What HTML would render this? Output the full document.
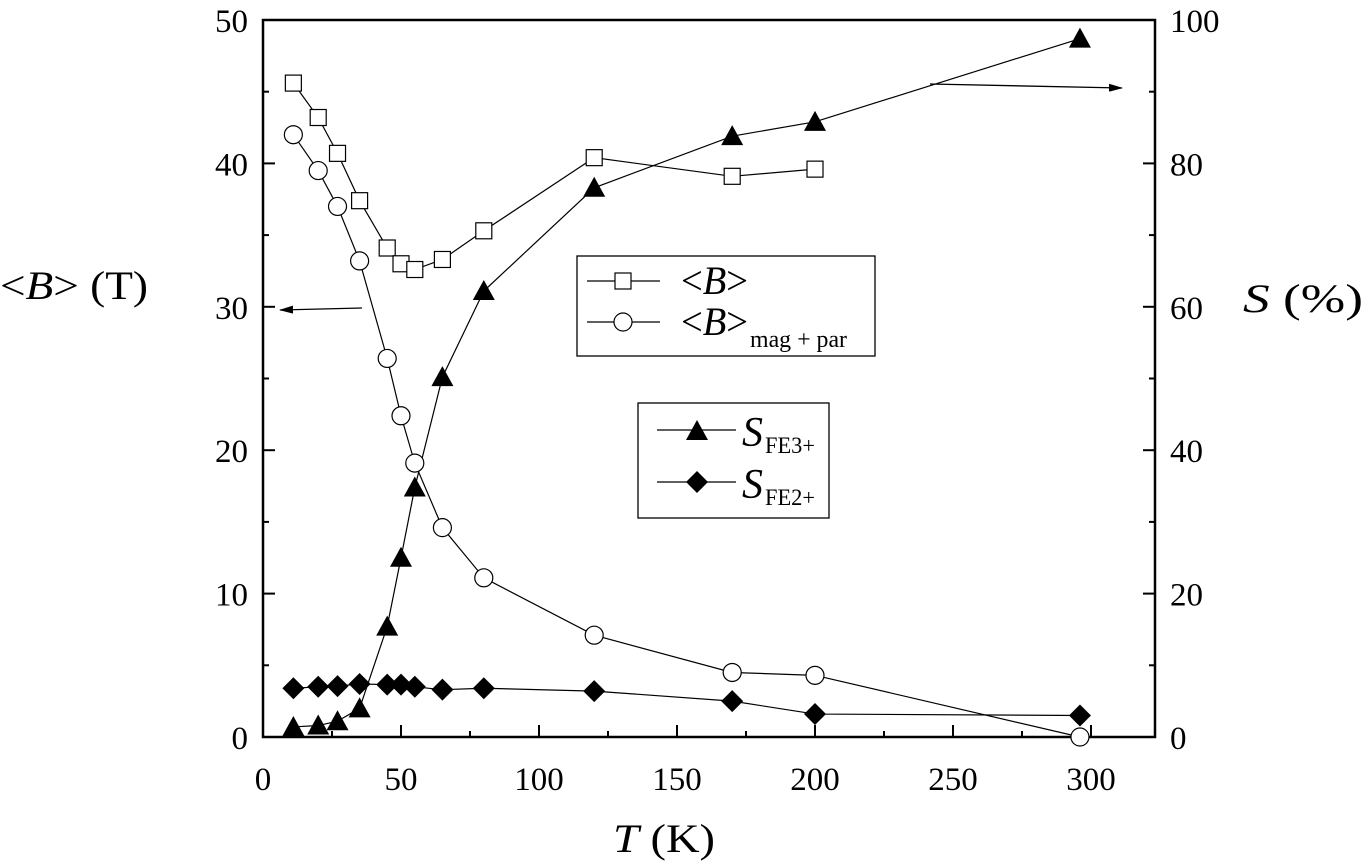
<!DOCTYPE html>
<html><head><meta charset="utf-8"><style>
html,body{margin:0;padding:0;background:#fff;width:1364px;height:867px;overflow:hidden}
svg{display:block;font-family:"Liberation Serif","DejaVu Serif",serif}
</style></head><body>
<svg id="s" width="1364" height="867" viewBox="0 0 1364 867" xmlns="http://www.w3.org/2000/svg">
<defs>
<marker id="ah" markerWidth="14" markerHeight="8" refX="13" refY="4" orient="auto" markerUnits="userSpaceOnUse"><path d="M0,0 L14,4 L0,8 z" fill="#000"/></marker>
</defs>
<rect x="263" y="20" width="892" height="717" fill="none" stroke="#000" stroke-width="2.5"/>
<g id="ticks" stroke="#000" stroke-width="2"></g>
<g id="lbl" font-size="33" fill="#000"></g>
<g id="data"></g>
<line x1="362" y1="308" x2="280" y2="310" stroke="#000" stroke-width="1.3" marker-end="url(#ah)"/>
<line x1="930" y1="84" x2="1122" y2="88" stroke="#000" stroke-width="1.3" marker-end="url(#ah)"/>
<rect x="577" y="256" width="298" height="100" fill="#fff" stroke="#000" stroke-width="1.3"/>
<line x1="587" y1="281" x2="660" y2="281" stroke="#000" stroke-width="1.2"/>
<rect x="615" y="273" width="16" height="16" fill="#fff" stroke="#000" stroke-width="1.2"/>
<text x="681" y="294" font-size="40" textLength="67" lengthAdjust="spacingAndGlyphs">&lt;<tspan font-style="italic">B</tspan>&gt;</text>
<line x1="587" y1="322" x2="660" y2="322" stroke="#000" stroke-width="1.2"/>
<circle cx="623" cy="322" r="9" fill="#fff" stroke="#000" stroke-width="1.2"/>
<text x="681" y="335" font-size="40" textLength="67" lengthAdjust="spacingAndGlyphs">&lt;<tspan font-style="italic">B</tspan>&gt;</text>
<text x="750" y="347" font-size="24" textLength="97" lengthAdjust="spacingAndGlyphs">mag + par</text>
<rect x="638" y="403" width="191" height="115" fill="#fff" stroke="#000" stroke-width="1.3"/>
<line x1="657" y1="430" x2="736" y2="430" stroke="#000" stroke-width="1.2"/>
<path d="M686,440 L697,420 L708,440 z" fill="#000"/>
<text x="742" y="446" font-size="42" font-style="italic">S</text>
<text x="765" y="453" font-size="23" textLength="50" lengthAdjust="spacingAndGlyphs">FE3+</text>
<line x1="657" y1="482" x2="736" y2="482" stroke="#000" stroke-width="1.2"/>
<path d="M697,471 L708,482 L697,493 L686,482 z" fill="#000"/>
<text x="742" y="498" font-size="42" font-style="italic">S</text>
<text x="765" y="505" font-size="23" textLength="50" lengthAdjust="spacingAndGlyphs">FE2+</text>
<text x="0" y="299" font-size="40" textLength="148" lengthAdjust="spacingAndGlyphs">&lt;<tspan font-style="italic">B</tspan>&gt; (T)</text>
<text x="1243" y="312" font-size="40" textLength="120" lengthAdjust="spacingAndGlyphs"><tspan font-style="italic">S</tspan> (%)</text>
<text x="613" y="852" font-size="40" textLength="102" lengthAdjust="spacingAndGlyphs"><tspan font-style="italic">T</tspan> (K)</text>
</svg>
<script>
var NS="http://www.w3.org/2000/svg";
function X(t){return 263+2.76*t}function Y(v){return 737-14.34*v}
function el(p,n,a,txt){var e=document.createElementNS(NS,n);for(var k in a)e.setAttribute(k,a[k]);if(txt!=null)e.textContent=txt;document.getElementById(p).appendChild(e);return e}
for(var t=0;t<=320;t+=25){var L=(t%50==0)?12:6;el("ticks","line",{x1:X(t),y1:737,x2:X(t),y2:737-L});if(t%50==0)el("lbl","text",{x:X(t),y:790,"text-anchor":"middle"},t)}
for(var v=0;v<=50;v+=5){var L=(v%10==0)?12:6;el("ticks","line",{x1:263,y1:Y(v),x2:263+L,y2:Y(v)});el("ticks","line",{x1:1155,y1:Y(v),x2:1155-L,y2:Y(v)});
if(v%10==0){el("lbl","text",{x:248,y:Y(v)+12,"text-anchor":"end"},v);el("lbl","text",{x:1170,y:Y(v)+12,"text-anchor":"start"},v*2)}}
var sq=[[11,45.6],[20,43.2],[27,40.7],[35,37.4],[45,34.1],[50,33],[55,32.6],[65,33.3],[80,35.3],[120,40.4],[170,39.1],[200,39.6]];
var ci=[[11,42],[20,39.5],[27,37],[35,33.2],[45,26.4],[50,22.4],[55,19.1],[65,14.6],[80,11.1],[120,7.1],[170,4.5],[200,4.3],[296,0]];
var tr=[[11,0.7],[20,0.8],[27,1.1],[35,2],[45,7.7],[50,12.5],[55,17.4],[65,25.1],[80,31.1],[120,38.3],[170,41.9],[200,42.9],[296,48.7]];
var di=[[11,3.4],[20,3.5],[27,3.55],[35,3.7],[45,3.65],[50,3.65],[55,3.5],[65,3.3],[80,3.4],[120,3.2],[170,2.5],[200,1.6],[296,1.5]];
function line(d){el("data","polyline",{points:d.map(function(p){return X(p[0])+","+Y(p[1])}).join(" "),fill:"none",stroke:"#000","stroke-width":1.2})}
[sq,ci,tr,di].forEach(line);
sq.forEach(function(p){el("data","rect",{x:X(p[0])-8,y:Y(p[1])-8,width:16,height:16,fill:"#fff",stroke:"#000","stroke-width":1.2})});
ci.forEach(function(p){el("data","circle",{cx:X(p[0]),cy:Y(p[1]),r:9,fill:"#fff",stroke:"#000","stroke-width":1.2})});
tr.forEach(function(p){var x=X(p[0]),y=Y(p[1]);el("data","path",{d:"M"+(x-11)+","+(y+9)+" L"+x+","+(y-11)+" L"+(x+11)+","+(y+9)+" z",fill:"#000"})});
di.forEach(function(p){var x=X(p[0]),y=Y(p[1]);el("data","path",{d:"M"+x+","+(y-11)+" L"+(x+11)+","+y+" L"+x+","+(y+11)+" L"+(x-11)+","+y+" z",fill:"#000"})});
</script>
</body></html>
